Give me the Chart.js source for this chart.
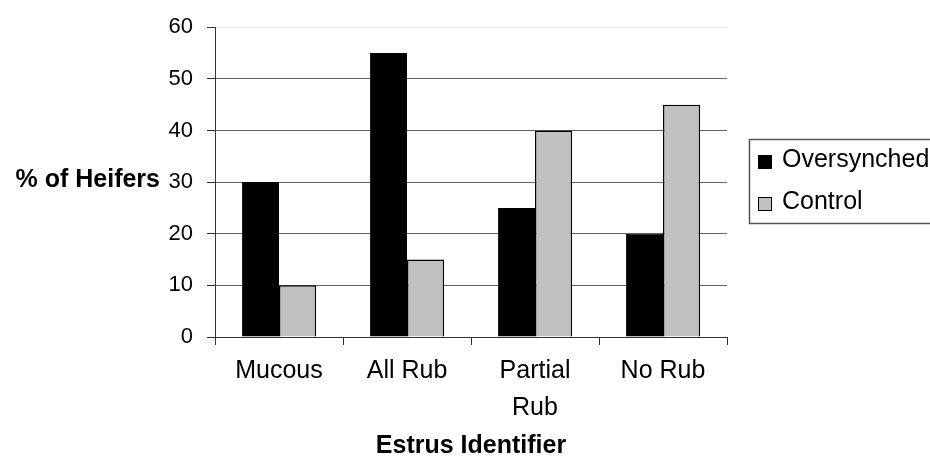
<!DOCTYPE html>
<html>
<head>
<meta charset="utf-8">
<script src="https://cdn.jsdelivr.net/npm/chart.js@4/dist/chart.umd.min.js"></script>
<style>
  html, body { margin: 0; padding: 0; background: #fff; }
  canvas { display: block; }
</style>
</head>
<body>
<canvas id="chart" width="930" height="465"></canvas>
<script>
// Share of heifers showing each estrus identifier, by treatment group
const categories = ['Mucous', 'All Rub', ['Partial', 'Rub'], 'No Rub'];
const oversynched = [30, 55, 25, 20];
const control = [10, 15, 40, 45];
const seriesNames = ['Oversynched', 'Control'];
const yMin = 0;
const yMax = 60;
const yStep = 10;
const xTitle = 'Estrus Identifier';
const yTitle = '% of Heifers';

const FONT = "'Liberation Sans', Arial, Helvetica, sans-serif";
Chart.defaults.font.family = FONT;
Chart.defaults.color = '#000';

// Horizontal y-axis caption, to the left of the tick labels
const sideTitle = {
  id: 'sideTitle',
  afterDraw(chart) {
    const { ctx, chartArea } = chart;
    ctx.save();
    ctx.font = `bold 25px ${FONT}`;
    ctx.fillStyle = '#000';
    ctx.textAlign = 'right';
    ctx.textBaseline = 'middle';
    ctx.fillText(yTitle, chartArea.left - 55, (chartArea.top + chartArea.bottom) / 2 - 2);
    ctx.restore();
  }
};

// Framed legend to the right of the plot, vertically centred
const boxLegend = {
  id: 'boxLegend',
  afterDraw(chart) {
    const { ctx, chartArea } = chart;
    const left = chartArea.right + 22;
    const midY = (chartArea.top + chartArea.bottom) / 2;
    const top = Math.round(midY - 43);
    const h = 84;
    ctx.save();
    ctx.strokeStyle = '#555';
    ctx.lineWidth = 1.5;
    ctx.strokeRect(left + 0.5, top + 0.5, chart.width - left + 10, h);
    chart.data.datasets.forEach((ds, i) => {
      const cy = top + 23 + i * 42;
      ctx.fillStyle = ds.backgroundColor;
      ctx.fillRect(left + 9, cy - 7, 14, 14);
      ctx.strokeStyle = '#000';
      ctx.lineWidth = 1;
      ctx.strokeRect(left + 9.5, cy - 6.5, 13, 13);
      ctx.fillStyle = '#000';
      ctx.font = `25px ${FONT}`;
      ctx.textAlign = 'left';
      ctx.textBaseline = 'middle';
      ctx.fillText(ds.label, left + 33, cy - 2);
    });
    ctx.restore();
  }
};

new Chart(document.getElementById('chart'), {
  type: 'bar',
  data: {
    labels: categories,
    datasets: [
      {
        label: seriesNames[0],
        data: oversynched,
        backgroundColor: '#000000',
        borderColor: '#000000',
        borderWidth: 1
      },
      {
        label: seriesNames[1],
        data: control,
        backgroundColor: '#c0c0c0',
        borderColor: '#000000',
        borderWidth: 1.5
      }
    ]
  },
  options: {
    responsive: false,
    animation: false,
    devicePixelRatio: 1,
    categoryPercentage: 0.58,
    barPercentage: 1.0,
    layout: { padding: { top: 23, right: 203, bottom: 0, left: 0 } },
    plugins: {
      legend: { display: false },
      tooltip: { enabled: false }
    },
    scales: {
      x: {
        grid: {
          offset: true,
          drawOnChartArea: false,
          drawTicks: true,
          tickLength: 8,
          tickColor: '#333'
        },
        border: { color: '#333', width: 1 },
        ticks: {
          font: { size: 25, lineHeight: 1.48 },
          color: '#000',
          padding: 8,
          maxRotation: 0,
          autoSkip: false
        },
        title: {
          display: true,
          text: xTitle,
          font: { size: 25, weight: 'bold' },
          color: '#000',
          padding: { top: 0, bottom: 4 }
        },
        afterFit(scale) { scale.height = 128; }
      },
      y: {
        min: yMin,
        max: yMax,
        ticks: {
          stepSize: yStep,
          font: { size: 22 },
          color: '#000',
          padding: 14
        },
        grid: {
          color: (c) => (c.tick && c.tick.value === yMax ? '#ebebeb' : '#666'),
          lineWidth: 1,
          drawTicks: true,
          tickLength: 8,
          tickColor: '#333'
        },
        border: { color: '#333', width: 1 },
        afterFit(scale) { scale.width = 215; }
      }
    }
  },
  plugins: [sideTitle, boxLegend]
});
</script>
</body>
</html>
